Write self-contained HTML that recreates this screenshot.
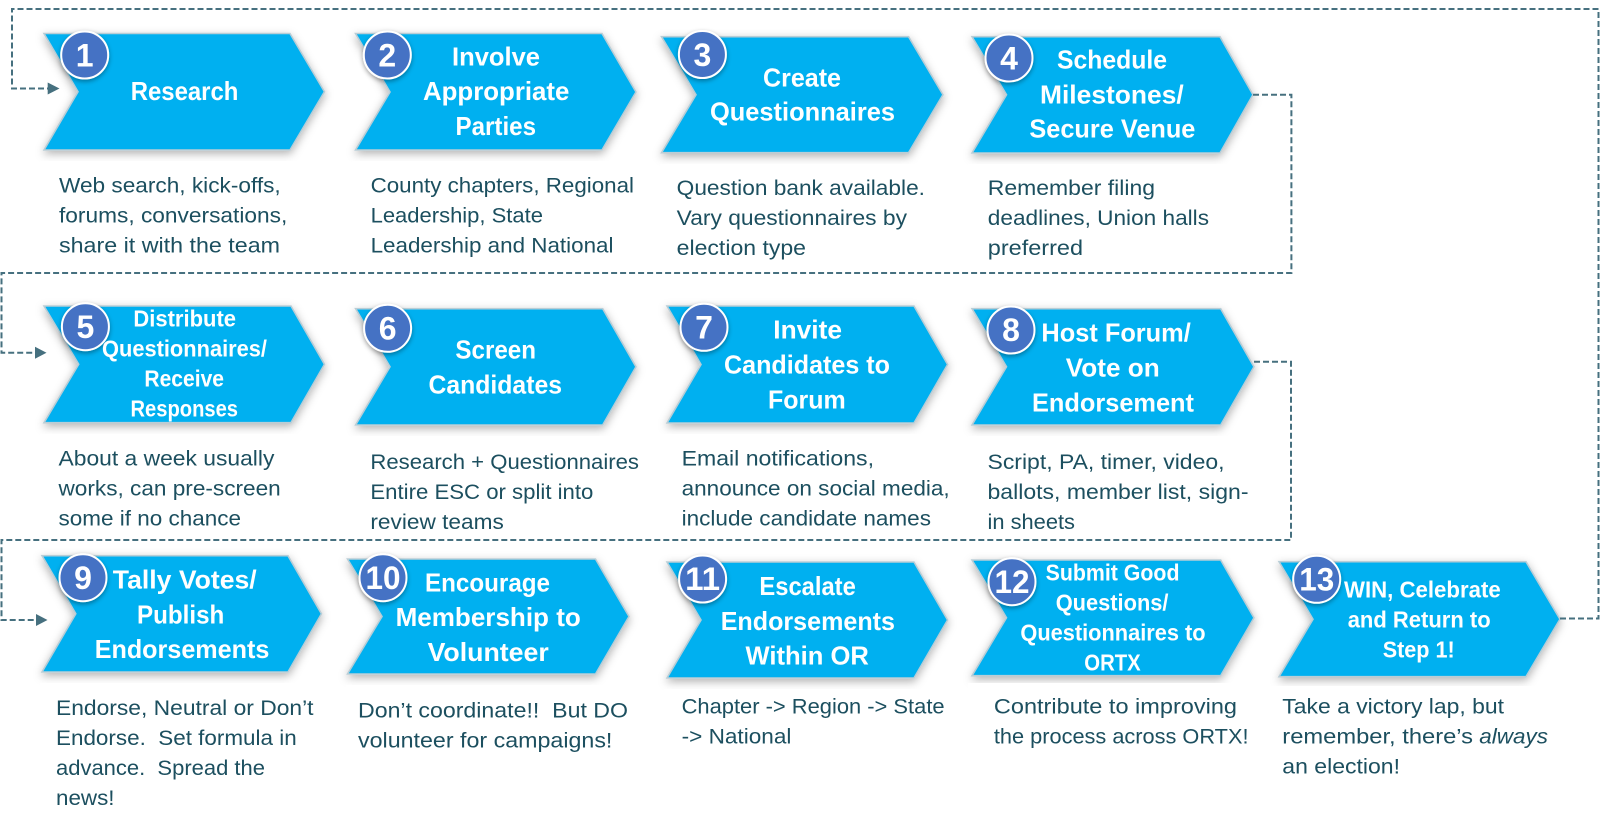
<!DOCTYPE html>
<html lang="en">
<head>
<meta charset="utf-8">
<title>Endorsement Process</title>
<style>
html,body{margin:0;padding:0;background:#fff;width:1600px;height:827px;overflow:hidden}
svg{display:block}
text{font-family:"Liberation Sans",sans-serif}
.t text{font-weight:700;font-size:26px;fill:#fff}
.s text{font-size:23px}
.b text{font-size:21px;fill:#1c4f5f}
.n text{font-weight:700;font-size:32px;fill:#fff;text-anchor:middle}
.c polygon{fill:#00b0f0;stroke:#b9cdd6;stroke-width:1.6;filter:url(#sh)}
.o circle{fill:#4472c4;stroke:#fff;stroke-width:2;filter:url(#sh2)}
.l path{fill:none;stroke:#46707f;stroke-width:2;stroke-dasharray:6 3}
.a polygon{fill:#46707f}
</style>
</head>
<body>
<svg width="1600" height="827" viewBox="0 0 1600 827" xmlns="http://www.w3.org/2000/svg">
<defs>
<filter id="sh" x="-10%" y="-15%" width="120%" height="135%"><feDropShadow dx="0" dy="3" stdDeviation="4.5" flood-color="#000" flood-opacity=".3"/></filter>
<filter id="sh2" x="-30%" y="-30%" width="160%" height="160%"><feDropShadow dx="0" dy="2" stdDeviation="2.5" flood-color="#000" flood-opacity=".35"/></filter>
</defs>

<g class="c">
<polygon points="44,33.5 290,33.5 324.5,91.7 290,150 44,150 78,91.7"/>
<polygon points="355.5,33.5 602,33.5 636,92 602,150 355.5,150 390,92"/>
<polygon points="661.5,36.7 908.6,36.7 943,94.7 908.6,152.7 661.5,152.7 696,94.7"/>
<polygon points="972,36.7 1220,36.7 1253,94.7 1220,153 972,153 1006.5,94.7"/>
<polygon points="44,306 291,306 324.5,364.3 291,422.7 44,422.7 78.7,364.3"/>
<polygon points="355.6,308.7 602.7,308.7 636,366.8 602.7,425 355.6,425 390,366.8"/>
<polygon points="667,306 914,306 947.6,364.5 914,423 667,423 701,364.5"/>
<polygon points="972,308.7 1220.7,308.7 1254,366.8 1220.7,425 972,425 1006.5,366.8"/>
<polygon points="42,555.7 288,555.7 321.5,613.8 288,672 42,672 75.8,613.8"/>
<polygon points="347.5,559 595.5,559 629,616.5 595.5,674 347.5,674 382,616.5"/>
<polygon points="667,562 914,562 947.6,620 914,678 667,678 701,620"/>
<polygon points="972,560 1220.7,560 1254,617.8 1220.7,675.7 972,675.7 1006.5,617.8"/>
<polygon points="1279,561.7 1526,561.7 1560,619.2 1526,676.7 1279,676.7 1313,619.2"/>
</g>

<g fill="#fff">
<rect x="40" y="161" width="300" height="110"/>
<rect x="352" y="161" width="300" height="110"/>
<rect x="660" y="164" width="300" height="107"/>
<rect x="968" y="164" width="320" height="107"/>
<rect x="40" y="434" width="300" height="104"/>
<rect x="352" y="436" width="300" height="102"/>
<rect x="660" y="434" width="300" height="104"/>
<rect x="968" y="436" width="320" height="102"/>
<rect x="40" y="683" width="300" height="140"/>
<rect x="346" y="685" width="300" height="140"/>
<rect x="664" y="689" width="300" height="130"/>
<rect x="968" y="683" width="300" height="130"/>
<rect x="1272" y="686" width="300" height="130"/>
</g>

<g class="l">
<path d="M1560,618.5 H1598.5 V9 H12 V88.5 H50"/>
<path d="M1253,94.7 H1291.4 V273 H1.5 V352.7 H37"/>
<path d="M1254,361.7 H1291 V540 H1.5 V620 H38"/>
</g>
<g class="a">
<polygon points="47.7,82.5 59.5,88.5 47.7,94.5"/>
<polygon points="35,346.7 46.5,352.7 35,358.7"/>
<polygon points="36,614 47.5,620 36,626"/>
</g>

<g class="o">
<circle cx="84.7" cy="55" r="23.5"/>
<circle cx="387.3" cy="55" r="23.5"/>
<circle cx="702.4" cy="54.5" r="23.5"/>
<circle cx="1009" cy="58" r="23.5"/>
<circle cx="85.4" cy="326.7" r="23.5"/>
<circle cx="387.6" cy="328.3" r="23.5"/>
<circle cx="704" cy="327.3" r="23.5"/>
<circle cx="1011" cy="330" r="23.5"/>
<circle cx="83" cy="577.7" r="23.5"/>
<circle cx="383" cy="577.7" r="23.5"/>
<circle cx="702.6" cy="579" r="23.5"/>
<circle cx="1012" cy="581.7" r="23.5"/>
<circle cx="1316.7" cy="579.3" r="23.5"/>
</g>
<g class="n">
<text x="84.7" y="66.5">1</text>
<text x="387.3" y="66.5">2</text>
<text x="702.4" y="66">3</text>
<text x="1009" y="69.5">4</text>
<text x="85.4" y="338">5</text>
<text x="387.6" y="339.5">6</text>
<text x="704" y="338.5">7</text>
<text x="1011" y="341">8</text>
<text x="83" y="589">9</text>
<text x="383" y="589" textLength="35" lengthAdjust="spacingAndGlyphs">10</text>
<text x="702.6" y="590" textLength="35" lengthAdjust="spacingAndGlyphs">11</text>
<text x="1012" y="593" textLength="35" lengthAdjust="spacingAndGlyphs">12</text>
<text x="1316.7" y="590.5" textLength="35" lengthAdjust="spacingAndGlyphs">13</text>
</g>

<g class="t">
<text x="130.7" y="100" textLength="107.7" lengthAdjust="spacingAndGlyphs">Research</text>
<text x="452" y="65.7" textLength="88" lengthAdjust="spacingAndGlyphs">Involve</text>
<text x="423" y="100" textLength="146.4" lengthAdjust="spacingAndGlyphs">Appropriate</text>
<text x="455.5" y="135" textLength="80.5" lengthAdjust="spacingAndGlyphs">Parties</text>
<text x="763" y="86.7" textLength="78" lengthAdjust="spacingAndGlyphs">Create</text>
<text x="710" y="120.7" textLength="185" lengthAdjust="spacingAndGlyphs">Questionnaires</text>
<text x="1057" y="68.3" textLength="110" lengthAdjust="spacingAndGlyphs">Schedule</text>
<text x="1040" y="103.3" textLength="143.7" lengthAdjust="spacingAndGlyphs">Milestones/</text>
<text x="1029.4" y="137.7" textLength="166" lengthAdjust="spacingAndGlyphs">Secure Venue</text>
<text x="455.4" y="358.7" textLength="80.6" lengthAdjust="spacingAndGlyphs">Screen</text>
<text x="428.5" y="393.3" textLength="133.5" lengthAdjust="spacingAndGlyphs">Candidates</text>
<text x="773.3" y="338.3" textLength="68.7" lengthAdjust="spacingAndGlyphs">Invite</text>
<text x="724" y="373.3" textLength="166" lengthAdjust="spacingAndGlyphs">Candidates to</text>
<text x="768" y="408.3" textLength="77.7" lengthAdjust="spacingAndGlyphs">Forum</text>
<text x="1041.4" y="341.7" textLength="149.4" lengthAdjust="spacingAndGlyphs">Host Forum/</text>
<text x="1065.8" y="376.7" textLength="93.9" lengthAdjust="spacingAndGlyphs">Vote on</text>
<text x="1032" y="411.7" textLength="162" lengthAdjust="spacingAndGlyphs">Endorsement</text>
<text x="112.8" y="588.3" textLength="143.9" lengthAdjust="spacingAndGlyphs">Tally Votes/</text>
<text x="137" y="623.3" textLength="87.3" lengthAdjust="spacingAndGlyphs">Publish</text>
<text x="94.7" y="658" textLength="174.7" lengthAdjust="spacingAndGlyphs">Endorsements</text>
<text x="425" y="591.7" textLength="125" lengthAdjust="spacingAndGlyphs">Encourage</text>
<text x="395.6" y="626" textLength="185.2" lengthAdjust="spacingAndGlyphs">Membership to</text>
<text x="427.6" y="661" textLength="121.2" lengthAdjust="spacingAndGlyphs">Volunteer</text>
<text x="759.4" y="595" textLength="96.4" lengthAdjust="spacingAndGlyphs">Escalate</text>
<text x="720.7" y="630" textLength="174.3" lengthAdjust="spacingAndGlyphs">Endorsements</text>
<text x="745.5" y="664.7" textLength="123.4" lengthAdjust="spacingAndGlyphs">Within OR</text>
</g>
<g class="t s">
<text x="133.4" y="326.7" textLength="102.6" lengthAdjust="spacingAndGlyphs">Distribute</text>
<text x="102" y="356.7" textLength="165" lengthAdjust="spacingAndGlyphs">Questionnaires/</text>
<text x="144.4" y="386.7" textLength="79.6" lengthAdjust="spacingAndGlyphs">Receive</text>
<text x="130.5" y="416.7" textLength="107.5" lengthAdjust="spacingAndGlyphs">Responses</text>
<text x="1045.6" y="580.7" textLength="133.9" lengthAdjust="spacingAndGlyphs">Submit Good</text>
<text x="1055.7" y="610.7" textLength="112.8" lengthAdjust="spacingAndGlyphs">Questions/</text>
<text x="1020.4" y="640.7" textLength="185.2" lengthAdjust="spacingAndGlyphs">Questionnaires to</text>
<text x="1084.3" y="670.7" textLength="56.4" lengthAdjust="spacingAndGlyphs">ORTX</text>
<text x="1344" y="597.3" textLength="156.7" lengthAdjust="spacingAndGlyphs">WIN, Celebrate</text>
<text x="1347.7" y="627.3" textLength="143" lengthAdjust="spacingAndGlyphs">and Return to</text>
<text x="1382.7" y="657.3" textLength="72" lengthAdjust="spacingAndGlyphs">Step 1!</text>
</g>

<g class="b">
<text x="59" y="192.3" textLength="221.7" lengthAdjust="spacingAndGlyphs">Web search, kick-offs,</text>
<text x="59" y="222.3" textLength="228.3" lengthAdjust="spacingAndGlyphs">forums, conversations,</text>
<text x="59" y="252.3" textLength="221" lengthAdjust="spacingAndGlyphs">share it with the team</text>
<text x="370.6" y="192.3" textLength="263.4" lengthAdjust="spacingAndGlyphs">County chapters, Regional</text>
<text x="370.6" y="222.3" textLength="172.4" lengthAdjust="spacingAndGlyphs">Leadership, State</text>
<text x="370.6" y="252.3" textLength="242.9" lengthAdjust="spacingAndGlyphs">Leadership and National</text>
<text x="676.7" y="195" textLength="248.3" lengthAdjust="spacingAndGlyphs">Question bank available.</text>
<text x="676.7" y="225" textLength="230.3" lengthAdjust="spacingAndGlyphs">Vary questionnaires by</text>
<text x="676.7" y="255" textLength="129.3" lengthAdjust="spacingAndGlyphs">election type</text>
<text x="987.8" y="195" textLength="167.2" lengthAdjust="spacingAndGlyphs">Remember filing</text>
<text x="987.8" y="225" textLength="221.2" lengthAdjust="spacingAndGlyphs">deadlines, Union halls</text>
<text x="987.8" y="255" textLength="95.2" lengthAdjust="spacingAndGlyphs">preferred</text>
<text x="58.5" y="465.7" textLength="215.9" lengthAdjust="spacingAndGlyphs">About a week usually</text>
<text x="58.5" y="495.7" textLength="222.2" lengthAdjust="spacingAndGlyphs">works, can pre-screen</text>
<text x="58.5" y="525.7" textLength="182.5" lengthAdjust="spacingAndGlyphs">some if no chance</text>
<text x="370.4" y="469" textLength="268.6" lengthAdjust="spacingAndGlyphs">Research + Questionnaires</text>
<text x="370.4" y="499" textLength="223" lengthAdjust="spacingAndGlyphs">Entire ESC or split into</text>
<text x="370.4" y="529" textLength="133.4" lengthAdjust="spacingAndGlyphs">review teams</text>
<text x="681.6" y="465.7" textLength="192.4" lengthAdjust="spacingAndGlyphs">Email notifications,</text>
<text x="681.6" y="495.7" textLength="268.1" lengthAdjust="spacingAndGlyphs">announce on social media,</text>
<text x="681.6" y="525.7" textLength="249.4" lengthAdjust="spacingAndGlyphs">include candidate names</text>
<text x="987.5" y="469" textLength="237" lengthAdjust="spacingAndGlyphs">Script, PA, timer, video,</text>
<text x="987.5" y="499" textLength="261" lengthAdjust="spacingAndGlyphs">ballots, member list, sign-</text>
<text x="987.5" y="529" textLength="87.5" lengthAdjust="spacingAndGlyphs">in sheets</text>
<text x="56" y="715" textLength="257.5" lengthAdjust="spacingAndGlyphs">Endorse, Neutral or Don’t</text>
<text x="56" y="745" textLength="240.7" lengthAdjust="spacingAndGlyphs" xml:space="preserve">Endorse.  Set formula in</text>
<text x="56" y="775" textLength="209" lengthAdjust="spacingAndGlyphs" xml:space="preserve">advance.  Spread the</text>
<text x="56" y="805" textLength="58.5" lengthAdjust="spacingAndGlyphs">news!</text>
<text x="358" y="717.3" textLength="270" lengthAdjust="spacingAndGlyphs" xml:space="preserve">Don’t coordinate!!  But DO</text>
<text x="358" y="747.3" textLength="254.4" lengthAdjust="spacingAndGlyphs">volunteer for campaigns!</text>
<text x="681.6" y="713.3" textLength="263" lengthAdjust="spacingAndGlyphs">Chapter -&gt; Region -&gt; State</text>
<text x="681.6" y="743.3" textLength="109.8" lengthAdjust="spacingAndGlyphs">-&gt; National</text>
<text x="993.9" y="713.3" textLength="243.1" lengthAdjust="spacingAndGlyphs">Contribute to improving</text>
<text x="993.9" y="743.3" textLength="254.6" lengthAdjust="spacingAndGlyphs">the process across ORTX!</text>
<text x="1282.3" y="713.3" textLength="221.7" lengthAdjust="spacingAndGlyphs">Take a victory lap, but</text>
<text x="1282.3" y="743.3" textLength="190.7" lengthAdjust="spacingAndGlyphs">remember, there’s</text>
<text x="1479.3" y="743.3" textLength="68.7" lengthAdjust="spacingAndGlyphs" font-style="italic">always</text>
<text x="1282.3" y="773.3" textLength="117.7" lengthAdjust="spacingAndGlyphs">an election!</text>
</g>
</svg>
</body>
</html>
